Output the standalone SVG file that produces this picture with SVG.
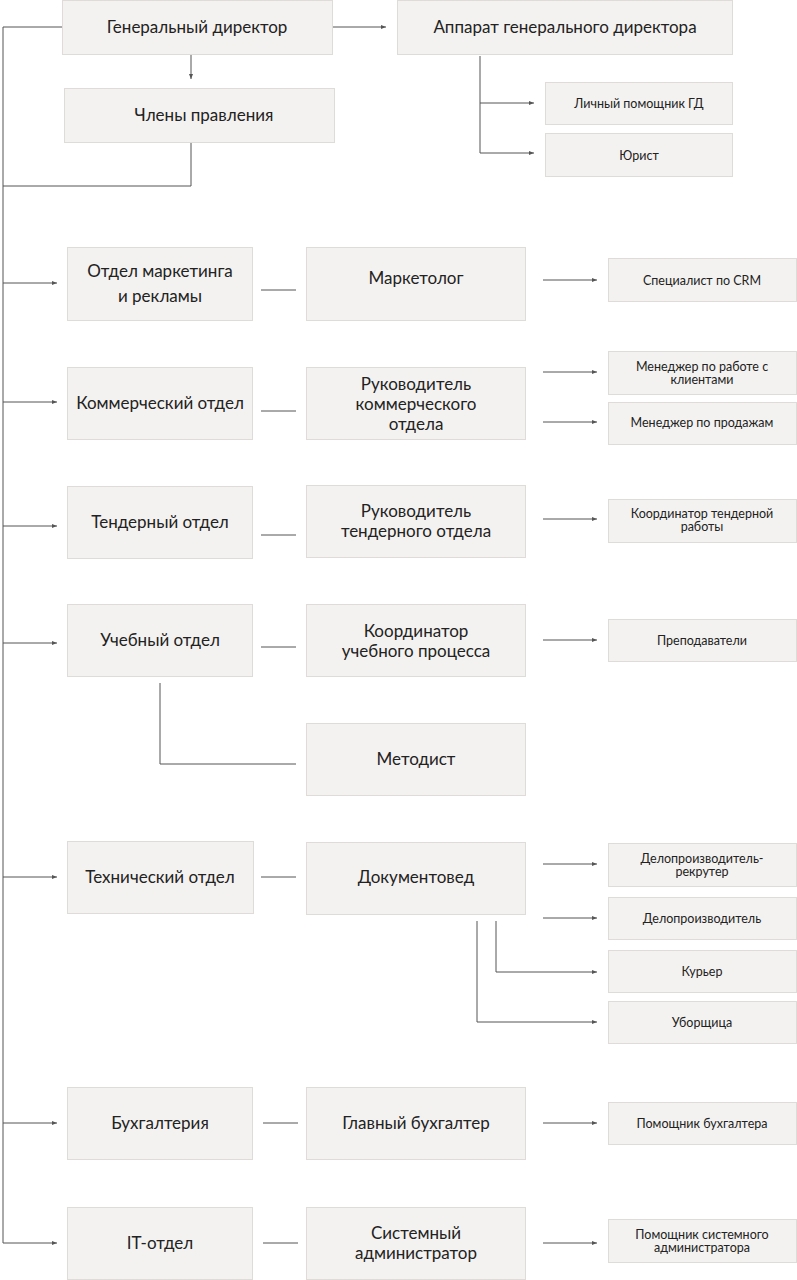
<svg xmlns="http://www.w3.org/2000/svg" width="797" height="1280" viewBox="0 0 797 1280">
<style>
.b{fill:#f4f2f0;stroke:#dedbd8;stroke-width:1}
.t{font-family:Lato,"Open Sans",sans-serif;font-size:17px;fill:#222;text-anchor:middle}
.s{font-family:Lato,"Open Sans",sans-serif;font-size:12.5px;fill:#222;text-anchor:middle}
.c{fill:none;stroke:#555;stroke-width:1}
</style>
<defs>
<marker id="a" markerWidth="6" markerHeight="6" refX="5" refY="3" orient="auto" markerUnits="userSpaceOnUse">
<path d="M0,1 L5,3 L0,5 z" fill="#555"/>
</marker>
</defs>
<rect width="797" height="1280" fill="#fff"/>
<g id="connectors">
<path class="c" d="M62,27 H3 V1243"/>
<path class="c" d="M332,27 H386" marker-end="url(#a)"/>
<path class="c" d="M191,55 V79" marker-end="url(#a)"/>
<path class="c" d="M191,143 V186 H3"/>
<path class="c" d="M480,56 V153"/>
<path class="c" d="M480,103 H534" marker-end="url(#a)"/>
<path class="c" d="M480,153 H534" marker-end="url(#a)"/>
<path class="c" d="M3,283 H57" marker-end="url(#a)"/>
<path class="c" d="M3,402 H57" marker-end="url(#a)"/>
<path class="c" d="M3,526 H57" marker-end="url(#a)"/>
<path class="c" d="M3,643 H57" marker-end="url(#a)"/>
<path class="c" d="M3,877 H57" marker-end="url(#a)"/>
<path class="c" d="M3,1123 H57" marker-end="url(#a)"/>
<path class="c" d="M3,1243 H57" marker-end="url(#a)"/>
<path class="c" d="M261,290 H296"/>
<path class="c" d="M261,411 H296"/>
<path class="c" d="M261,535 H296"/>
<path class="c" d="M261,647 H296"/>
<path class="c" d="M261,877 H296"/>
<path class="c" d="M263,1123 H298"/>
<path class="c" d="M263,1243 H298"/>
<path class="c" d="M160,683 V764 H296"/>
<path class="c" d="M543,280 H597" marker-end="url(#a)"/>
<path class="c" d="M543,372 H597" marker-end="url(#a)"/>
<path class="c" d="M543,422 H597" marker-end="url(#a)"/>
<path class="c" d="M543,519 H597" marker-end="url(#a)"/>
<path class="c" d="M543,640 H597" marker-end="url(#a)"/>
<path class="c" d="M543,864 H597" marker-end="url(#a)"/>
<path class="c" d="M543,918 H597" marker-end="url(#a)"/>
<path class="c" d="M496,921 V972 H597" marker-end="url(#a)"/>
<path class="c" d="M477,921 V1022 H597" marker-end="url(#a)"/>
<path class="c" d="M543,1123 H597" marker-end="url(#a)"/>
<path class="c" d="M543,1243 H597" marker-end="url(#a)"/>
</g>
<g id="n-gd"><rect class="b" x="62.5" y="0.5" width="270" height="54"/><text class="t" x="197" y="33">Генеральный директор</text></g>
<g id="n-apparat"><rect class="b" x="397.5" y="0.5" width="335" height="54"/><text class="t" x="565" y="33">Аппарат генерального директора</text></g>
<g id="n-chleny"><rect class="b" x="64.5" y="88.5" width="270" height="54"/><text class="t" x="204" y="121">Члены правления</text></g>
<g id="n-pomgd"><rect class="b" x="545.5" y="82.5" width="187" height="42"/><text class="s" x="639" y="108">Личный помощник ГД</text></g>
<g id="n-yurist"><rect class="b" x="545.5" y="133.5" width="187" height="43"/><text class="s" x="639" y="160">Юрист</text></g>

<g id="n-mark"><rect class="b" x="67.5" y="247.5" width="185" height="73"/><text class="t" x="160" y="277">Отдел маркетинга</text><text class="t" x="160" y="302">и рекламы</text></g>
<g id="n-marketolog"><rect class="b" x="306.5" y="247.5" width="219" height="73"/><text class="t" x="416" y="284">Маркетолог</text></g>
<g id="n-crm"><rect class="b" x="608.5" y="258.5" width="188" height="43"/><text class="s" x="702" y="285">Специалист по CRM</text></g>

<g id="n-komm"><rect class="b" x="67.5" y="367.5" width="185" height="72"/><text class="t" x="160" y="409">Коммерческий отдел</text></g>
<g id="n-rukkomm"><rect class="b" x="306.5" y="367.5" width="219" height="72"/><text class="t" x="416" y="390">Руководитель</text><text class="t" x="416" y="410">коммерческого</text><text class="t" x="416" y="430">отдела</text></g>
<g id="n-mklient"><rect class="b" x="608.5" y="351.5" width="188" height="43"/><text class="s" x="702" y="371">Менеджер по работе с</text><text class="s" x="702" y="384">клиентами</text></g>
<g id="n-mprod"><rect class="b" x="608.5" y="402.5" width="188" height="42"/><text class="s" x="702" y="427">Менеджер по продажам</text></g>

<g id="n-tender"><rect class="b" x="67.5" y="486.5" width="185" height="72"/><text class="t" x="160" y="528">Тендерный отдел</text></g>
<g id="n-rukt"><rect class="b" x="306.5" y="485.5" width="219" height="72"/><text class="t" x="416" y="517">Руководитель</text><text class="t" x="416" y="537">тендерного отдела</text></g>
<g id="n-koordt"><rect class="b" x="608.5" y="499.5" width="188" height="43"/><text class="s" x="702" y="518">Координатор тендерной</text><text class="s" x="702" y="531">работы</text></g>

<g id="n-ucheb"><rect class="b" x="67.5" y="604.5" width="185" height="72"/><text class="t" x="160" y="646">Учебный отдел</text></g>
<g id="n-koordu"><rect class="b" x="306.5" y="604.5" width="219" height="72"/><text class="t" x="416" y="637">Координатор</text><text class="t" x="416" y="657">учебного процесса</text></g>
<g id="n-prep"><rect class="b" x="608.5" y="619.5" width="188" height="42"/><text class="s" x="702" y="645">Преподаватели</text></g>
<g id="n-metodist"><rect class="b" x="306.5" y="723.5" width="219" height="72"/><text class="t" x="416" y="765">Методист</text></g>

<g id="n-tech"><rect class="b" x="67.5" y="841.5" width="186" height="72"/><text class="t" x="160" y="883">Технический отдел</text></g>
<g id="n-dokum"><rect class="b" x="306.5" y="842.5" width="219" height="72"/><text class="t" x="416" y="883">Документовед</text></g>
<g id="n-delrekr"><rect class="b" x="608.5" y="843.5" width="188" height="43"/><text class="s" x="702" y="863">Делопроизводитель-</text><text class="s" x="702" y="876">рекрутер</text></g>
<g id="n-delo"><rect class="b" x="608.5" y="897.5" width="188" height="42"/><text class="s" x="702" y="923">Делопроизводитель</text></g>
<g id="n-kurer"><rect class="b" x="608.5" y="950.5" width="188" height="42"/><text class="s" x="702" y="976">Курьер</text></g>
<g id="n-uborsh"><rect class="b" x="608.5" y="1001.5" width="188" height="42"/><text class="s" x="702" y="1027">Уборщица</text></g>

<g id="n-buh"><rect class="b" x="67.5" y="1087.5" width="185" height="72"/><text class="t" x="160" y="1129">Бухгалтерия</text></g>
<g id="n-glbuh"><rect class="b" x="306.5" y="1087.5" width="219" height="72"/><text class="t" x="416" y="1129">Главный бухгалтер</text></g>
<g id="n-pombuh"><rect class="b" x="608.5" y="1102.5" width="188" height="42"/><text class="s" x="702" y="1128">Помощник бухгалтера</text></g>

<g id="n-it"><rect class="b" x="67.5" y="1207.5" width="185" height="72"/><text class="t" x="160" y="1249">IT-отдел</text></g>
<g id="n-sysadm"><rect class="b" x="306.5" y="1207.5" width="219" height="72"/><text class="t" x="416" y="1239">Системный</text><text class="t" x="416" y="1259">администратор</text></g>
<g id="n-pomsys"><rect class="b" x="608.5" y="1219.5" width="188" height="43"/><text class="s" x="702" y="1239">Помощник системного</text><text class="s" x="702" y="1252">администратора</text></g>
</svg>
